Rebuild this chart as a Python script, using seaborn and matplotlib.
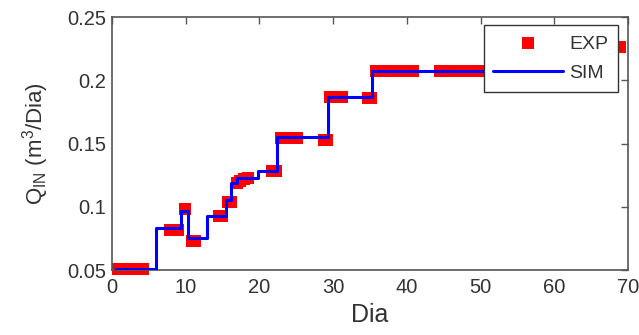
import numpy as np
import pandas as pd
import seaborn as sns
import matplotlib
matplotlib.use("Agg")
import matplotlib.pyplot as plt

# Experimental points (day, Q_IN)
exp_dia = [0.8, 1.5, 2.2, 2.9, 3.6, 4.2,
           7.8, 8.3, 8.9,
           9.9,
           10.8, 11.2,
           14.5, 14.9,
           15.8, 16.2,
           16.9, 17.4, 17.9, 18.4,
           21.7, 22.2,
           22.9, 23.5, 24.1, 24.7, 25.1,
           28.7, 29.2,
           29.6, 30.2, 30.7, 31.2,
           34.7, 35.2,
           35.8, 36.5, 37.2, 37.9, 38.6, 39.3, 40.0, 40.8,
           44.5, 45.2, 45.9, 46.6, 47.3, 48.0, 48.7, 49.4, 50.1, 50.6, 52.0, 54.0, 56.0,
           68.9]
exp_q = [0.051, 0.051, 0.051, 0.051, 0.051, 0.051,
         0.082, 0.082, 0.082,
         0.098,
         0.073, 0.073,
         0.093, 0.093,
         0.104, 0.104,
         0.119, 0.120, 0.122, 0.123,
         0.128, 0.128,
         0.154, 0.154, 0.154, 0.154, 0.154,
         0.153, 0.153,
         0.187, 0.187, 0.187, 0.187,
         0.186, 0.186,
         0.207, 0.207, 0.207, 0.207, 0.207, 0.207, 0.207, 0.207,
         0.207, 0.207, 0.207, 0.207, 0.207, 0.207, 0.207, 0.207, 0.207, 0.207, 0.207, 0.207, 0.207,
         0.226]

# Simulated step curve (values hold until next day)
sim_dia = [0.5, 5.9, 9.3, 10.3, 12.9, 15.4, 16.2, 16.9, 19.8, 22.4, 29.3, 35.3, 58.0]
sim_q = [0.051, 0.083, 0.097, 0.075, 0.093, 0.105, 0.119, 0.123, 0.128, 0.155, 0.187, 0.207, 0.207]

x_ticks = [0, 10, 20, 30, 40, 50, 60, 70]
y_ticks = [0.05, 0.1, 0.15, 0.2, 0.25]
y_tick_labels = ["0.05", "0.1", "0.15", "0.2", "0.25"]

df_exp = pd.DataFrame({"dia": exp_dia, "q": exp_q})
df_sim = pd.DataFrame({"dia": sim_dia, "q": sim_q})

sns.set_style("white")
plt.rcParams["font.family"] = ["Liberation Sans", "DejaVu Sans"]
plt.rcParams["mathtext.fontset"] = "custom"
plt.rcParams["mathtext.rm"] = "Liberation Sans"
plt.rcParams["mathtext.default"] = "regular"

grey = "#555555"
txt = "#333333"
fig = plt.figure(figsize=(6.39, 3.35), dpi=100)
ax = fig.add_axes([0.1753, 0.194, 0.8075, 0.755])

sns.scatterplot(data=df_exp, x="dia", y="q", marker="s", s=70, color="red",
                edgecolor="red", linewidth=0, ax=ax, label="EXP", clip_on=False, zorder=2)
sns.lineplot(data=df_sim, x="dia", y="q", color="blue", lw=2.2, ax=ax,
             label="SIM", drawstyle="steps-post", zorder=3)

ax.set_xlim(0, 70)
ax.set_ylim(0.05, 0.25)
ax.set_xticks(x_ticks)
ax.set_yticks(y_ticks)
ax.set_yticklabels(y_tick_labels)
ax.tick_params(direction="in", length=5, width=1, colors=grey, labelcolor=txt,
               labelsize=14.5, top=True, right=True)
ax.tick_params(axis="x", pad=6)
ax.tick_params(axis="y", pad=4)
for s in ax.spines.values():
    s.set_color(grey)
    s.set_linewidth(1.2)

ax.set_xlabel("Dia", fontsize=18, color=txt, labelpad=4)
ax.set_ylabel(r"Q$_{IN}$ (m$^3$/Dia)", fontsize=16, color=txt, labelpad=12)

leg = ax.legend(loc="upper right", bbox_to_anchor=(0.9806, 0.968), borderaxespad=0,
                frameon=True, fancybox=False, edgecolor=txt, fontsize=14,
                borderpad=0.5, handlelength=3.6, handletextpad=0.3,
                labelspacing=0.62, framealpha=1)
leg.get_frame().set_linewidth(1.0)
for t in leg.get_texts():
    t.set_color(txt)

fig.savefig("out.png", dpi=100)
